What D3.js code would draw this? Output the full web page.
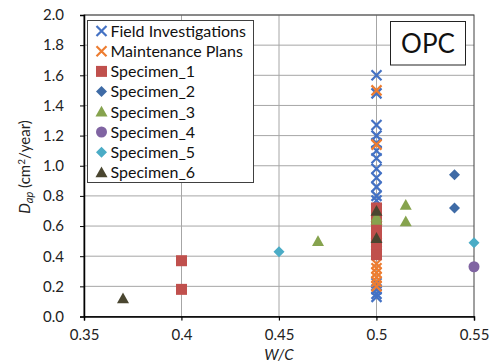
<!DOCTYPE html>
<html>
<head>
<meta charset="utf-8">
<script src="https://cdn.jsdelivr.net/npm/d3@7"></script>
<style>
  body { margin: 0; background: #fff; }
  text { font-family: Lato, "Open Sans", sans-serif; }
</style>
</head>
<body>
<script>
var xTicks = [0.35, 0.4, 0.45, 0.5, 0.55];
var yTicks = [0, 0.2, 0.4, 0.6, 0.8, 1.0, 1.2, 1.4, 1.6, 1.8, 2.0];

var seriesNames = ["Field Investigations", "Maintenance Plans", "Specimen_1", "Specimen_2",
                   "Specimen_3", "Specimen_4", "Specimen_5", "Specimen_6"];

var fieldX = [0.5, 0.5, 0.5, 0.5, 0.5, 0.5, 0.5, 0.5, 0.5, 0.5, 0.5, 0.5, 0.5, 0.5, 0.5, 0.5, 0.5];
var fieldY = [1.6, 1.48, 1.27, 1.2, 1.15, 1.1, 1.05, 0.98, 0.92, 0.86, 0.8, 0.77, 0.47, 0.22, 0.18, 0.15, 0.13];
var maintX = [0.5, 0.5, 0.5, 0.5, 0.5, 0.5, 0.5, 0.5, 0.5];
var maintY = [1.5, 1.14, 0.49, 0.35, 0.32, 0.29, 0.26, 0.23, 0.2];
var spec1X = [0.4, 0.4, 0.5, 0.5, 0.5, 0.5, 0.5, 0.5, 0.5];
var spec1Y = [0.37, 0.18, 0.72, 0.66, 0.6, 0.55, 0.5, 0.45, 0.41];
var spec2X = [0.54, 0.54];
var spec2Y = [0.94, 0.72];
var spec3X = [0.47, 0.515, 0.515, 0.5, 0.5];
var spec3Y = [0.5, 0.74, 0.63, 0.66, 0.64];
var spec4X = [0.55];
var spec4Y = [0.33];
var spec5X = [0.45, 0.55];
var spec5Y = [0.43, 0.49];
var spec6X = [0.37, 0.5, 0.5];
var spec6Y = [0.12, 0.7, 0.52];

var series = [
  { name: seriesNames[0], xs: fieldX, ys: fieldY, shape: "x", color: "#4472C4" },
  { name: seriesNames[1], xs: maintX, ys: maintY, shape: "x", color: "#ED7D31" },
  { name: seriesNames[2], xs: spec1X, ys: spec1Y, shape: "square", color: "#C0504D" },
  { name: seriesNames[3], xs: spec2X, ys: spec2Y, shape: "diamond", color: "#3F6BA6" },
  { name: seriesNames[4], xs: spec3X, ys: spec3Y, shape: "triangle", color: "#86A34E" },
  { name: seriesNames[5], xs: spec4X, ys: spec4Y, shape: "circle", color: "#8064A2" },
  { name: seriesNames[6], xs: spec5X, ys: spec5Y, shape: "diamond", color: "#4BACC6" },
  { name: seriesNames[7], xs: spec6X, ys: spec6Y, shape: "triangle", color: "#4A4630" }
];

var W = 492, H = 363;
var margin = { left: 84, right: 18, top: 15, bottom: 46.5 };

var svg = d3.select("body").append("svg")
  .attr("width", W)
  .attr("height", H);

var x = d3.scaleLinear().domain([0.35, 0.55]).range([margin.left, W - margin.right]);
var y = d3.scaleLinear().domain([0, 2]).range([H - margin.bottom, margin.top]);

// gridlines
svg.append("g").selectAll("line.h")
  .data(yTicks.slice(1))
  .enter().append("line")
  .attr("x1", x(0.35)).attr("x2", x(0.55))
  .attr("y1", function(d) { return y(d); }).attr("y2", function(d) { return y(d); })
  .attr("stroke", "#A6A6A6").attr("stroke-width", 1);
svg.append("g").selectAll("line.v")
  .data(xTicks.slice(1, -1))
  .enter().append("line")
  .attr("x1", function(d) { return x(d); }).attr("x2", function(d) { return x(d); })
  .attr("y1", y(0) + 4).attr("y2", y(2))
  .attr("stroke", "#A6A6A6").attr("stroke-width", 1);

// plot border
svg.append("rect")
  .attr("x", x(0.35)).attr("y", y(2))
  .attr("width", x(0.55) - x(0.35)).attr("height", y(0) - y(2))
  .attr("fill", "none").attr("stroke", "#404040").attr("stroke-width", 1);

// axes
var xAxis = svg.append("g")
  .attr("transform", "translate(0," + y(0) + ")")
  .call(d3.axisBottom(x).tickValues(xTicks).tickSize(4).tickPadding(9)
    .tickFormat(function(d) { return String(d); }));
var yAxis = svg.append("g")
  .attr("transform", "translate(" + x(0.35) + ",0)")
  .call(d3.axisLeft(y).tickValues(yTicks).tickSize(4).tickPadding(16)
    .tickFormat(d3.format(".1f")));
[xAxis, yAxis].forEach(function(a) {
  a.select(".domain").attr("stroke", "#000").attr("stroke-width", 1.5);
  a.selectAll(".tick line").attr("stroke", "#000");
  a.selectAll(".tick text").attr("font-size", 15).attr("fill", "#222")
    .style("font-family", "Lato, sans-serif");
});

// axis titles
svg.append("text")
  .attr("x", x(0.45)).attr("y", 360)
  .attr("text-anchor", "middle").attr("font-size", 15).attr("font-style", "italic")
  .attr("fill", "#222")
  .text("W/C");

var yl = svg.append("text")
  .attr("transform", "translate(30,167) rotate(-90)")
  .attr("text-anchor", "middle").attr("font-size", 15).attr("fill", "#222");
yl.append("tspan").attr("font-style", "italic").text("D");
yl.append("tspan").attr("font-style", "italic").attr("font-size", 11).attr("dy", 3).text("ap");
yl.append("tspan").attr("dy", -3).text(" (cm");
yl.append("tspan").attr("font-size", 10).attr("dy", -5).text("2");
yl.append("tspan").attr("dy", 5).text("/year)");

// marker path
function markerPath(shape, s) {
  var h = s / 2;
  if (shape === "x") return "M" + (-h) + "," + (-h) + "L" + h + "," + h + "M" + (-h) + "," + h + "L" + h + "," + (-h);
  if (shape === "square") return "M" + (-h) + "," + (-h) + "H" + h + "V" + h + "H" + (-h) + "Z";
  if (shape === "diamond") return "M0," + (-h) + "L" + h + ",0L0," + h + "L" + (-h) + ",0Z";
  if (shape === "triangle") return "M0," + (-h) + "L" + h + "," + (h * 0.8) + "L" + (-h) + "," + (h * 0.8) + "Z";
  if (shape === "circle") return d3.symbol(d3.symbolCircle, Math.PI * h * h)();
}
var sizes = { x: 10, square: 11, diamond: 11, triangle: 12, circle: 11 };

function drawMarker(g, shape, color) {
  var p = g.append("path").attr("d", markerPath(shape, sizes[shape]));
  if (shape === "x") p.attr("fill", "none").attr("stroke", color).attr("stroke-width", 2.2);
  else p.attr("fill", color);
}

series.forEach(function(s) {
  var pts = s.xs.map(function(v, i) { return [v, s.ys[i]]; });
  svg.append("g").selectAll("g")
    .data(pts)
    .enter().append("g")
    .attr("transform", function(d) { return "translate(" + x(d[0]) + "," + y(d[1]) + ")"; })
    .each(function() { drawMarker(d3.select(this), s.shape, s.color); });
});

// legend
var legend = svg.append("g");
legend.append("rect")
  .attr("x", 87.5).attr("y", 20.5).attr("width", 166).attr("height", 162)
  .attr("fill", "#fff").attr("stroke", "#404040").attr("stroke-width", 1);
series.forEach(function(s, i) {
  var row = legend.append("g").attr("transform", "translate(101.5," + (31 + i * 20.2) + ")");
  drawMarker(row, s.shape, s.color);
  row.append("text").attr("x", 9).attr("y", 5.8).attr("font-size", 16).attr("fill", "#111").text(s.name);
});

// OPC label
svg.append("rect")
  .attr("x", 390.5).attr("y", 21.5).attr("width", 75).attr("height", 43.5)
  .attr("fill", "#fff").attr("stroke", "#222").attr("stroke-width", 1);
svg.append("text")
  .attr("x", 428).attr("y", 52.5).attr("text-anchor", "middle")
  .attr("font-size", 26).attr("fill", "#111").text("OPC");
</script>
</body>
</html>
